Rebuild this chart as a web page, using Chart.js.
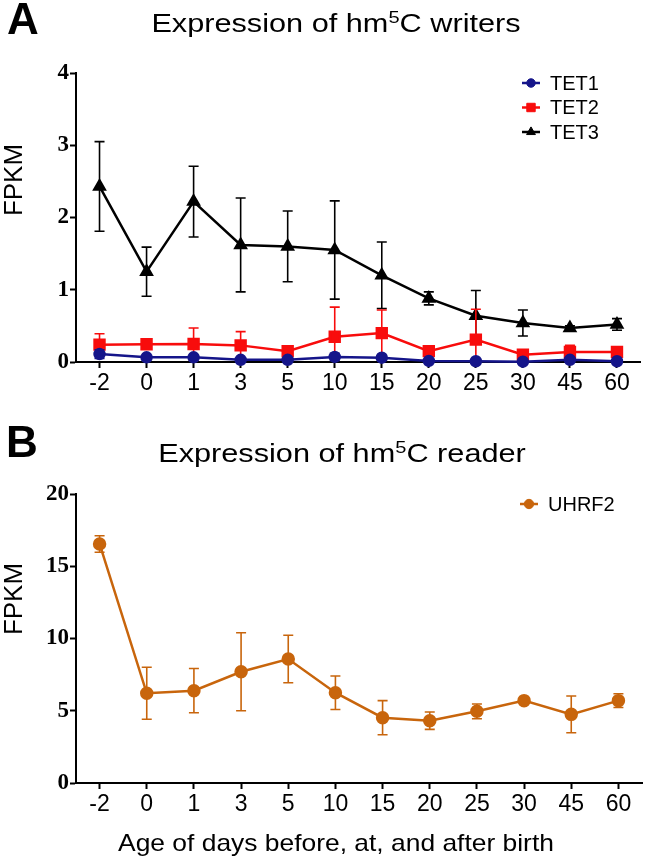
<!DOCTYPE html>
<html>
<head>
<meta charset="utf-8">
<script src="https://cdn.jsdelivr.net/npm/chart.js@4.4.1/dist/chart.umd.min.js"></script>
<style>
  html, body { margin: 0; padding: 0; background: #fff; }
  body { width: 650px; height: 861px; position: relative; overflow: hidden; font-family: 'Liberation Sans', Arial, sans-serif; color: #000; }
  canvas { position: absolute; left: 0; }
  #chartA { top: 0; }
  #chartB { top: 400px; }
  .txt { position: absolute; white-space: nowrap; line-height: 1; transform: translate(-50%, -50%); }
  .letter { font-size: 44px; font-weight: bold; }
  .title { font-size: 26px; transform: translate(-50%, -50%) scaleX(1.18); }
  .title sup { font-size: 17px; vertical-align: 9px; line-height: 0; }
  .ylab { font-size: 26px; transform: translate(-50%, -50%) rotate(-90deg); }
  .xlab { font-size: 24px; transform: translate(-50%, -50%) scaleX(1.1); }
</style>
</head>
<body>
<canvas id="chartA" width="650" height="400"></canvas>
<canvas id="chartB" width="650" height="461"></canvas>

<div class="txt letter" style="left:23px; top:19px;">A</div>
<div class="txt title" style="left:336px; top:23px;">Expression of hm<sup>5</sup>C writers</div>
<div class="txt ylab" style="left:13px; top:180px;">FPKM</div>

<div class="txt letter" style="left:22px; top:442px;">B</div>
<div class="txt title" style="left:342px; top:453px;">Expression of hm<sup>5</sup>C reader</div>
<div class="txt ylab" style="left:13px; top:599px;">FPKM</div>
<div class="txt xlab" style="left:336px; top:843px;">Age of days before, at, and after birth</div>

<script>
// Dados (FPKM, média e desvio)
const ages = ['-2', '0', '1', '3', '5', '10', '15', '20', '25', '30', '45', '60'];

const tet1 = [0.11, 0.065, 0.065, 0.03, 0.03, 0.07, 0.06, 0.015, 0.01, 0.005, 0.03, 0.01];
const tet1Sd = [0.06, 0.01, 0.02, 0.01, 0.01, 0.05, 0.02, 0.01, 0.01, 0.01, 0.02, 0.005];

const tet2 = [0.24, 0.245, 0.25, 0.23, 0.15, 0.35, 0.40, 0.15, 0.31, 0.10, 0.14, 0.14];
const tet2Sd = [0.15, 0.02, 0.22, 0.19, 0.03, 0.41, 0.32, 0.03, 0.42, 0.03, 0.09, 0.03];

const tet3 = [2.43, 1.25, 2.22, 1.62, 1.60, 1.55, 1.20, 0.88, 0.64, 0.54, 0.47, 0.52];
const tet3Sd = [0.62, 0.34, 0.49, 0.65, 0.49, 0.68, 0.46, 0.09, 0.35, 0.18, 0.03, 0.08];

const uhrf2 = [16.54, 6.21, 6.39, 7.70, 8.58, 6.25, 4.52, 4.31, 4.96, 5.70, 4.75, 5.70];
const uhrf2Sd = [0.57, 1.80, 1.53, 2.70, 1.64, 1.16, 1.18, 0.60, 0.51, 0.15, 1.27, 0.48];

const yTicksA = [0, 1, 2, 3, 4];
const yTicksB = [0, 5, 10, 15, 20];

const NAVY = '#15158a';
const RED = '#f80c0c';
const BLACK = '#000000';
const ORANGE = '#c8650c';

// Barras de erro (média ± DP), desenhadas antes de cada série
const errorBars = {
    id: 'errorBars',
    beforeDatasetDraw(chart, args) {
        const ds = chart.data.datasets[args.index];
        if (!ds.sd) return;
        const ctx = chart.ctx;
        const y = chart.scales.y;
        const area = chart.chartArea;
        ctx.save();
        ctx.beginPath();
        ctx.rect(area.left, area.top - 10, area.right - area.left, area.bottom - area.top + 10);
        ctx.clip();
        ctx.strokeStyle = ds.borderColor;
        ctx.lineWidth = 1.6;
        args.meta.data.forEach((pt, i) => {
            const v = ds.data[i], e = ds.sd[i];
            const yt = y.getPixelForValue(v + e);
            const yb = y.getPixelForValue(v - e);
            ctx.beginPath();
            ctx.moveTo(pt.x, yt); ctx.lineTo(pt.x, yb);
            ctx.moveTo(pt.x - 5, yt); ctx.lineTo(pt.x + 5, yt);
            ctx.moveTo(pt.x - 5, yb); ctx.lineTo(pt.x + 5, yb);
            ctx.stroke();
        });
        ctx.restore();
    }
};

// Legenda estilo GraphPad (linha + símbolo)
const lineLegend = {
    id: 'lineLegend',
    afterDraw(chart, args, opts) {
        const ctx = chart.ctx;
        const items = opts.order.map(i => chart.data.datasets[i]);
        items.forEach((ds, k) => {
            const cy = opts.y + k * opts.gap;
            const cx = opts.x;
            ctx.save();
            ctx.strokeStyle = ds.borderColor;
            ctx.fillStyle = ds.pointBackgroundColor;
            ctx.lineWidth = 2.5;
            ctx.beginPath();
            ctx.moveTo(cx - 9, cy); ctx.lineTo(cx + 9, cy);
            ctx.stroke();
            ctx.lineWidth = 1;
            Chart.helpers.drawPoint(ctx, {
                pointStyle: ds.pointStyle, radius: ds.pointRadius * 0.85, rotation: 0, borderWidth: 1
            }, cx, cy);
            ctx.fillStyle = '#000';
            ctx.font = '20px "Liberation Sans", Arial, sans-serif';
            ctx.textBaseline = 'middle';
            ctx.fillText(ds.label, cx + 19, cy + 1);
            ctx.restore();
        });
    }
};

function series(label, data, sd, color, style, radius) {
    return {
        label, data, sd,
        borderColor: color,
        backgroundColor: color,
        pointBackgroundColor: color,
        pointBorderColor: color,
        pointStyle: style,
        pointRadius: radius,
        pointHoverRadius: radius,
        borderWidth: 2.5,
        tension: 0,
        fill: false,
        clip: false
    };
}

function makeOptions(yMax, yTicks, padTop, xHeight, legend) {
    return {
        responsive: false,
        animation: false,
        events: [],
        layout: { padding: { top: padTop, right: 4, left: 0, bottom: 0 } },
        plugins: {
            legend: { display: false },
            tooltip: { enabled: false },
            lineLegend: legend
        },
        scales: {
            x: {
                type: 'category',
                offset: true,
                grid: { display: true, drawOnChartArea: false, offset: false, tickLength: 6, tickWidth: 2, tickColor: '#000' },
                border: { display: true, color: '#000', width: 2 },
                ticks: {
                    color: '#000', padding: 2, maxRotation: 0, autoSkip: false,
                    font: { family: '"Liberation Sans Narrow", "Liberation Sans", Arial', size: 23 }
                },
                afterFit(scale) { scale.height = xHeight; }
            },
            y: {
                min: 0, max: yMax,
                afterBuildTicks(scale) { scale.ticks = yTicks.map(v => ({ value: v })); },
                grid: { display: true, drawOnChartArea: false, tickLength: 6, tickWidth: 2, tickColor: '#000' },
                border: { display: true, color: '#000', width: 2 },
                ticks: {
                    color: '#000', padding: 1,
                    font: { family: '"Liberation Serif", "Times New Roman", serif', size: 23, weight: 'bold' }
                },
                afterFit(scale) { scale.width = 76; }
            }
        }
    };
}

Chart.register(errorBars, lineLegend);

// Gráfico A: escritores
new Chart(document.getElementById('chartA'), {
    type: 'line',
    data: {
        labels: ages,
        datasets: [
            series('TET1', tet1, tet1Sd, NAVY, 'circle', 5),
            series('TET2', tet2, tet2Sd, RED, 'rect', 7),
            series('TET3', tet3, tet3Sd, BLACK, 'triangle', 6)
        ]
    },
    options: makeOptions(4, yTicksA, 73, 38, { x: 531, y: 83, gap: 24.5, order: [0, 1, 2] })
});

// Gráfico B: leitor
new Chart(document.getElementById('chartB'), {
    type: 'line',
    data: {
        labels: ages,
        datasets: [series('UHRF2', uhrf2, uhrf2Sd, ORANGE, 'circle', 5.5)]
    },
    options: makeOptions(20, yTicksB, 94, 78, { x: 529, y: 104, gap: 24, order: [0] })
});
</script>
</body>
</html>
